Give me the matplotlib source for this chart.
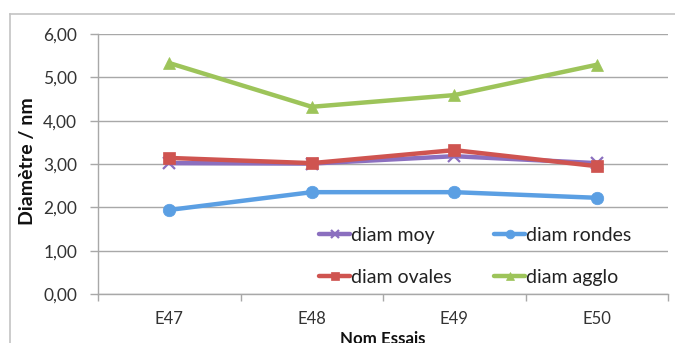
import matplotlib
matplotlib.use("Agg")
import matplotlib.pyplot as plt
from matplotlib.legend import Legend
from matplotlib.lines import Line2D
from matplotlib.ticker import FixedLocator, FuncFormatter

# Data
essais = ["E47", "E48", "E49", "E50"]
diam_moy = [3.02, 3.01, 3.18, 3.02]
diam_rondes = [1.94, 2.35, 2.35, 2.22]
diam_ovales = [3.14, 3.02, 3.32, 2.95]
diam_agglo = [5.33, 4.32, 4.59, 5.29]

plt.rcParams["font.family"] = ["Lato", "DejaVu Sans"]

W, H = 675, 343
fig = plt.figure(figsize=(W / 100, H / 100), dpi=100)
fig.patch.set_facecolor("white")

x0, x1, ytop, ybot = 98, 668, 34, 294
ax = fig.add_axes([x0 / W, 1 - ybot / H, (x1 - x0) / W, (ybot - ytop) / H])

xs = list(range(len(essais)))
series = [
    ("diam moy", diam_moy, "#8B6FBF", "x", 8),
    ("diam rondes", diam_rondes, "#5B9FE3", "o", 9),
    ("diam ovales", diam_ovales, "#CF5450", "s", 8),
    ("diam agglo", diam_agglo, "#9DC45A", "^", 8),
]
handles = {}
for label, vals, color, mk, ms in series:
    (h,) = ax.plot(xs, vals, color=color, lw=3.2, marker=mk, ms=ms,
                   mew=1.6 if mk == "x" else 0.5, mec=color, mfc=color,
                   solid_capstyle="round", label=label, zorder=3)
    handles[label] = h

ax.set_xlim(-0.5, len(essais) - 0.5)
ax.set_ylim(0, 6)

grid_color = "#A8A8A8"
ax.set_yticks([0, 1, 2, 3, 4, 5, 6])
ax.yaxis.set_major_formatter(FuncFormatter(lambda v, p: f"{v:.2f}".replace(".", ",")))
ax.grid(axis="y", color=grid_color, lw=1.0, zorder=0)

ax.set_xticks(xs)
ax.set_xticklabels(essais)
ax.xaxis.set_minor_locator(FixedLocator([i - 0.5 for i in range(len(essais) + 1)]))
ax.tick_params(axis="x", which="major", length=0, pad=12.5, labelsize=12, labelcolor="#333333")
ax.tick_params(axis="x", which="minor", length=5, width=1, color=grid_color, direction="out")
ax.tick_params(axis="y", length=6, width=1, color=grid_color, pad=9, labelsize=12.5, labelcolor="#333333")

for side in ("top", "right"):
    ax.spines[side].set_visible(False)
for side in ("left", "bottom"):
    ax.spines[side].set_color(grid_color)
    ax.spines[side].set_linewidth(1.0)

# legend: two columns, each anchored at its own position
legend_cols = [(["diam moy", "diam ovales"], 319), (["diam rondes", "diam agglo"], 494)]
for names, xpix in legend_cols:
    leg = Legend(ax, [handles[k] for k in names], names, frameon=False,
                 loc="upper left", bbox_to_anchor=(xpix / W, 1 - 227 / H),
                 bbox_transform=fig.transFigure, borderpad=0, borderaxespad=0,
                 numpoints=1, markerscale=0.7, handlelength=1.6, handletextpad=0.05,
                 labelspacing=1.27, fontsize=14)
    for t in leg.get_texts():
        t.set_color("#222222")
    ax.add_artist(leg)

fig.text(27 / W, 1 - 161 / H, "Diamètre / nm", rotation=90, ha="center", va="center",
         fontsize=14, fontweight="bold", color="#111111")
fig.text(383 / W, 1 - 339 / H, "Nom Essais", ha="center", va="center",
         fontsize=12.2, fontweight="bold", color="#111111")

# outer chart frame (top and left edges)
frame_color = "#C4C4C4"
fig.add_artist(Line2D([10 / W, 1], [1 - 14 / H, 1 - 14 / H], transform=fig.transFigure,
                      color=frame_color, lw=1.2))
fig.add_artist(Line2D([10 / W, 10 / W], [0, 1 - 14 / H], transform=fig.transFigure,
                      color=frame_color, lw=1.2))

fig.savefig("out.png", dpi=100)
